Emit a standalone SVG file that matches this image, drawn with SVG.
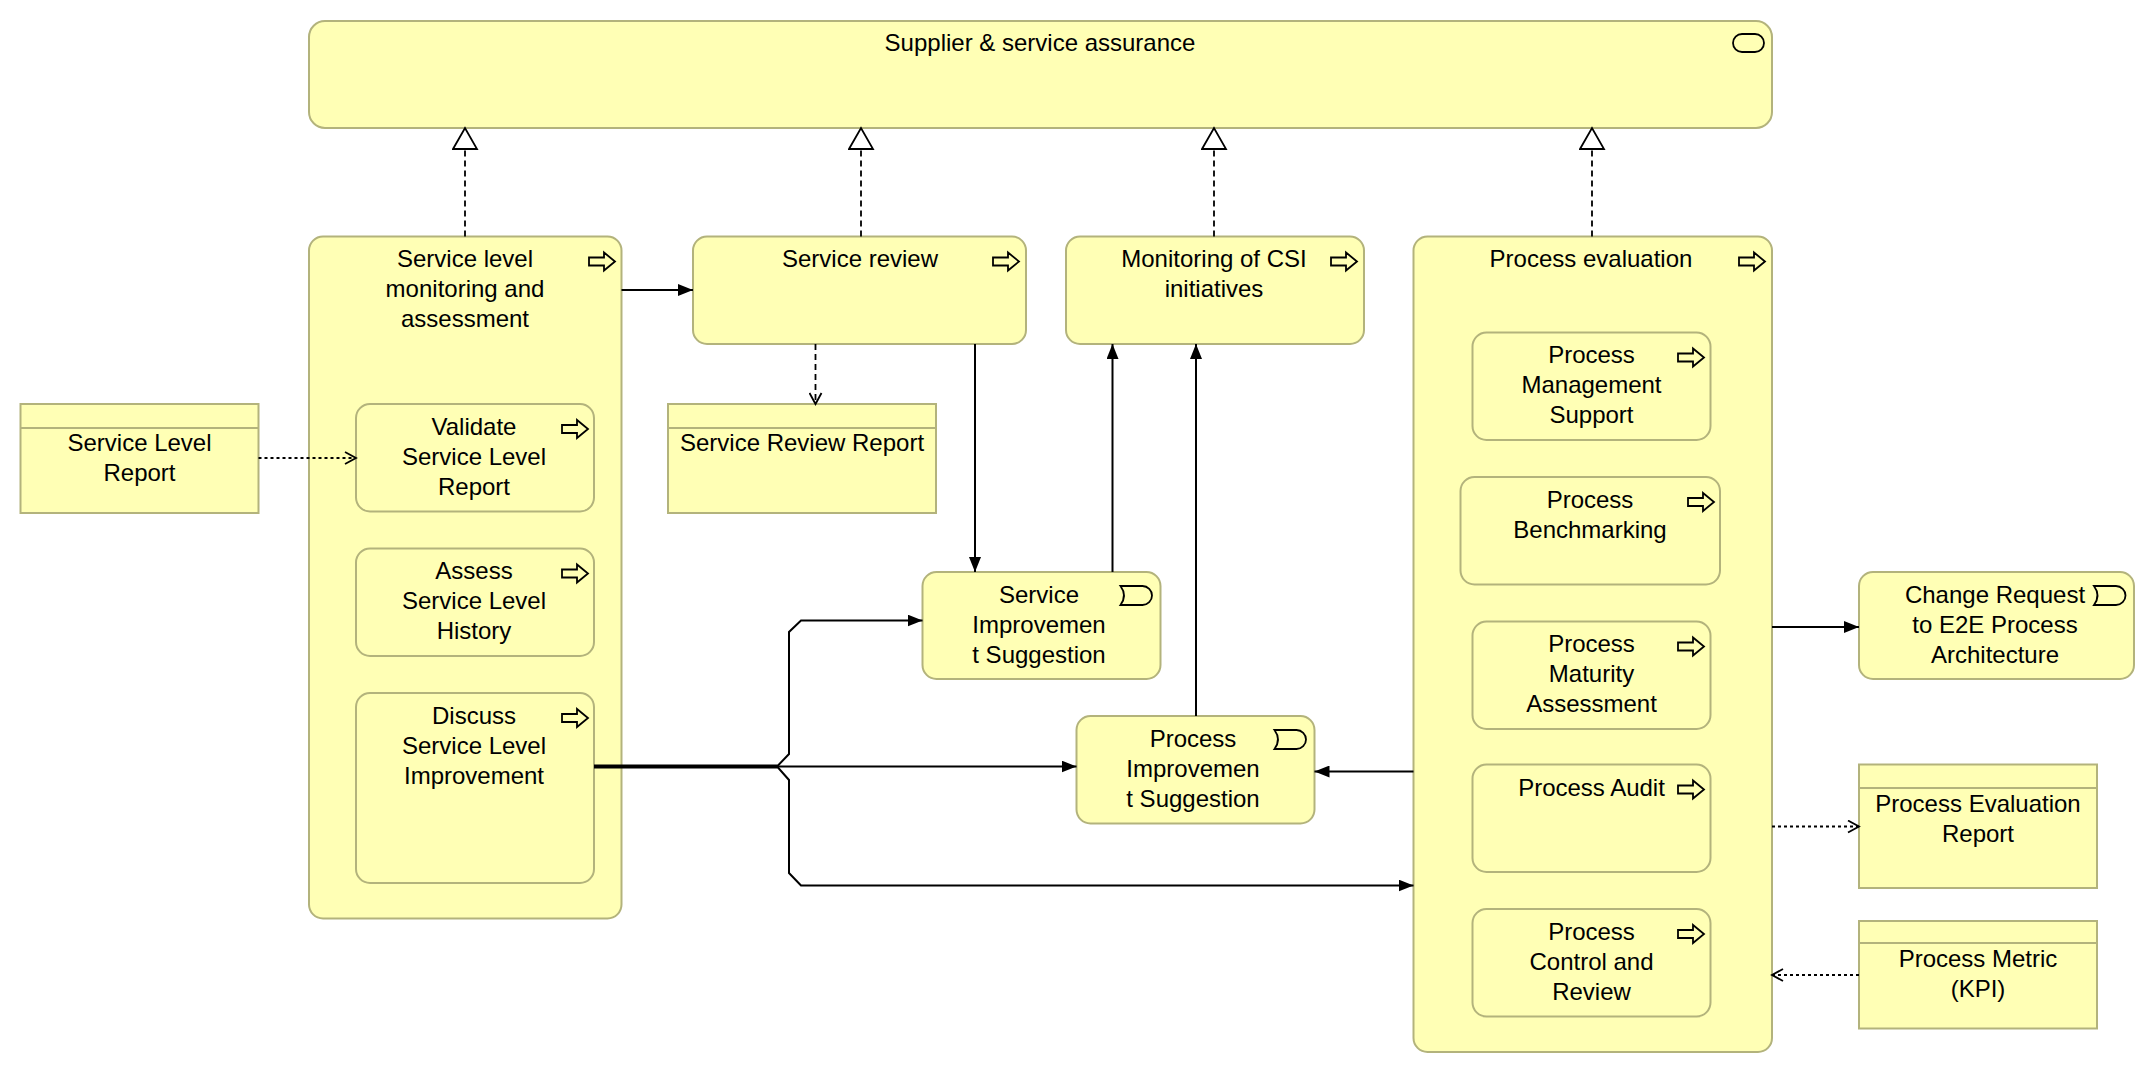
<svg xmlns="http://www.w3.org/2000/svg" width="2156" height="1074" viewBox="0 0 2156 1074">
<style>
.n{fill:#ffffb5;stroke:#b3b37c;stroke-width:2}
.t{font-family:"Liberation Sans",Arial,sans-serif;font-size:24px;fill:#000;text-anchor:middle}
.ic{fill:none;stroke:#000;stroke-width:1.8}
.c{fill:none;stroke:#000;stroke-width:2}
.dot{fill:none;stroke:#000;stroke-width:2;stroke-dasharray:3 3}
.dash{fill:none;stroke:#000;stroke-width:1.8;stroke-dasharray:6 4}
</style>
<defs>
<marker id="fa" markerUnits="userSpaceOnUse" markerWidth="16" markerHeight="12" refX="15" refY="6" orient="auto"><path d="M0,0 L15,6 L0,12 Z" fill="#000"/></marker>
<marker id="oa" markerUnits="userSpaceOnUse" markerWidth="14" markerHeight="14" refX="12" refY="7" orient="auto"><path d="M1,1 L12,7 L1,13" fill="none" stroke="#000" stroke-width="1.8"/></marker>
<marker id="rt" markerUnits="userSpaceOnUse" markerWidth="24" markerHeight="28" refX="22" refY="13" orient="auto"><path d="M1,1 L22,13 L1,25 Z" fill="#fff" stroke="#000" stroke-width="1.8"/></marker>
<path id="fn" d="M0,-4 H15 V-9 L26,0 L15,9 V4 H0 Z"/>
<path id="ev" d="M0,0 H22 A9.5,9.5 0 0 1 22,19 H0 Q7,9.5 0,0 Z"/>
</defs>

<g id="supplier-service-assurance">
<rect class="n" x="309" y="21" width="1463" height="107" rx="16"/>
<rect class="ic" x="1733" y="34" width="31" height="18" rx="9"/>
<text class="t" x="1040" y="51">Supplier &amp; service assurance</text>
</g>

<g id="service-level-monitoring">
<rect class="n" x="309" y="236.5" width="312.5" height="682" rx="14"/>
<use href="#fn" class="ic" x="589" y="261.5"/>
<text class="t" x="465" y="267">Service level</text>
<text class="t" x="465" y="297">monitoring and</text>
<text class="t" x="465" y="327">assessment</text>
<g id="validate-service-level-report">
<rect class="n" x="356" y="404" width="238" height="107.5" rx="14"/>
<use href="#fn" class="ic" x="562" y="429"/>
<text class="t" x="474" y="434.5">Validate</text>
<text class="t" x="474" y="464.5">Service Level</text>
<text class="t" x="474" y="494.5">Report</text>
</g>
<g id="assess-service-level-history">
<rect class="n" x="356" y="548.5" width="238" height="107.5" rx="14"/>
<use href="#fn" class="ic" x="562" y="573.5"/>
<text class="t" x="474" y="579">Assess</text>
<text class="t" x="474" y="609">Service Level</text>
<text class="t" x="474" y="639">History</text>
</g>
<g id="discuss-service-level-improvement">
<rect class="n" x="356" y="693" width="238" height="190" rx="14"/>
<use href="#fn" class="ic" x="562" y="718"/>
<text class="t" x="474" y="723.5">Discuss</text>
<text class="t" x="474" y="753.5">Service Level</text>
<text class="t" x="474" y="783.5">Improvement</text>
</g>
</g>

<g id="service-review">
<rect class="n" x="693" y="236.5" width="333" height="107.5" rx="14"/>
<use href="#fn" class="ic" x="993" y="261.5"/>
<text class="t" x="860" y="267">Service review</text>
</g>

<g id="monitoring-csi-initiatives">
<rect class="n" x="1066" y="236.5" width="298" height="107.5" rx="14"/>
<use href="#fn" class="ic" x="1331" y="261.5"/>
<text class="t" x="1214" y="267">Monitoring of CSI</text>
<text class="t" x="1214" y="297">initiatives</text>
</g>

<g id="process-evaluation">
<rect class="n" x="1413.5" y="236.5" width="358.5" height="815.5" rx="14"/>
<use href="#fn" class="ic" x="1739" y="261.5"/>
<text class="t" x="1591" y="267">Process evaluation</text>
<g id="process-management-support">
<rect class="n" x="1472.5" y="332.5" width="238" height="107.5" rx="14"/>
<use href="#fn" class="ic" x="1678" y="357.5"/>
<text class="t" x="1591.5" y="363">Process</text>
<text class="t" x="1591.5" y="393">Management</text>
<text class="t" x="1591.5" y="423">Support</text>
</g>
<g id="process-benchmarking">
<rect class="n" x="1460.5" y="477" width="259.5" height="107.5" rx="14"/>
<use href="#fn" class="ic" x="1688" y="502"/>
<text class="t" x="1590" y="507.5">Process</text>
<text class="t" x="1590" y="537.5">Benchmarking</text>
</g>
<g id="process-maturity-assessment">
<rect class="n" x="1472.5" y="621.5" width="238" height="107.5" rx="14"/>
<use href="#fn" class="ic" x="1678" y="646.5"/>
<text class="t" x="1591.5" y="652">Process</text>
<text class="t" x="1591.5" y="682">Maturity</text>
<text class="t" x="1591.5" y="712">Assessment</text>
</g>
<g id="process-audit">
<rect class="n" x="1472.5" y="764.5" width="238" height="107.5" rx="14"/>
<use href="#fn" class="ic" x="1678" y="789.5"/>
<text class="t" x="1591.5" y="796">Process Audit</text>
</g>
<g id="process-control-review">
<rect class="n" x="1472.5" y="909" width="238" height="107.5" rx="14"/>
<use href="#fn" class="ic" x="1678" y="934"/>
<text class="t" x="1591.5" y="939.5">Process</text>
<text class="t" x="1591.5" y="969.5">Control and</text>
<text class="t" x="1591.5" y="999.5">Review</text>
</g>
</g>

<g id="service-level-report">
<rect class="n" x="20.5" y="404" width="238" height="109"/>
<line x1="20.5" y1="428" x2="258.5" y2="428" stroke="#b3b37c" stroke-width="2"/>
<text class="t" x="139.5" y="451">Service Level</text>
<text class="t" x="139.5" y="481">Report</text>
</g>

<g id="service-review-report">
<rect class="n" x="668" y="404" width="268" height="109"/>
<line x1="668" y1="428" x2="936" y2="428" stroke="#b3b37c" stroke-width="2"/>
<text class="t" x="802" y="451">Service Review Report</text>
</g>

<g id="service-improvement-suggestion">
<rect class="n" x="922.5" y="572" width="238" height="107" rx="14"/>
<use href="#ev" class="ic" x="1120.5" y="586"/>
<text class="t" x="1039" y="602.5">Service</text>
<text class="t" x="1039" y="632.5">Improvemen</text>
<text class="t" x="1039" y="662.5">t Suggestion</text>
</g>

<g id="process-improvement-suggestion">
<rect class="n" x="1076.5" y="716" width="238" height="107.5" rx="14"/>
<use href="#ev" class="ic" x="1274.5" y="730"/>
<text class="t" x="1193" y="746.5">Process</text>
<text class="t" x="1193" y="776.5">Improvemen</text>
<text class="t" x="1193" y="806.5">t Suggestion</text>
</g>

<g id="change-request-e2e">
<rect class="n" x="1859" y="572" width="275" height="107" rx="14"/>
<use href="#ev" class="ic" x="2094" y="586"/>
<text class="t" x="1995" y="602.5">Change Request</text>
<text class="t" x="1995" y="632.5">to E2E Process</text>
<text class="t" x="1995" y="662.5">Architecture</text>
</g>

<g id="process-evaluation-report">
<rect class="n" x="1859" y="764.5" width="238" height="123.5"/>
<line x1="1859" y1="788" x2="2097" y2="788" stroke="#b3b37c" stroke-width="2"/>
<text class="t" x="1978" y="811.5">Process Evaluation</text>
<text class="t" x="1978" y="841.5">Report</text>
</g>

<g id="process-metric-kpi">
<rect class="n" x="1859" y="921" width="238" height="107.5"/>
<line x1="1859" y1="943" x2="2097" y2="943" stroke="#b3b37c" stroke-width="2"/>
<text class="t" x="1978" y="967">Process Metric</text>
<text class="t" x="1978" y="997">(KPI)</text>
</g>

<g id="connectors">
<path class="dash" d="M465,236.5 V128" marker-end="url(#rt)"/>
<path class="dash" d="M861,236.5 V128" marker-end="url(#rt)"/>
<path class="dash" d="M1214,236.5 V128" marker-end="url(#rt)"/>
<path class="dash" d="M1592,236.5 V128" marker-end="url(#rt)"/>
<path class="c" d="M621.5,290 H693" marker-end="url(#fa)"/>
<path class="dot" d="M258.5,458 H356" marker-end="url(#oa)"/>
<path class="dash" d="M815.5,344 V404" marker-end="url(#oa)"/>
<path class="c" d="M975,344 V572" marker-end="url(#fa)"/>
<path class="c" d="M1112.5,572 V344" marker-end="url(#fa)"/>
<path class="c" d="M1196,716 V344" marker-end="url(#fa)"/>
<path class="c" d="M1413.5,771.5 H1314.5" marker-end="url(#fa)"/>
<path class="c" d="M1772,627 H1859" marker-end="url(#fa)"/>
<path class="dot" d="M1772,826.5 H1859" marker-end="url(#oa)"/>
<path class="dot" d="M1859,975 H1772" marker-end="url(#oa)"/>
<path class="c" d="M594,765.5 H778 L789,754 V632 L801,620.5 H922.5" marker-end="url(#fa)"/>
<path class="c" d="M594,766.5 H1076.5" marker-end="url(#fa)"/>
<path class="c" d="M594,767.5 H778 L789,780 V873 L801,885.5 H1413.5" marker-end="url(#fa)"/>
</g>
</svg>
